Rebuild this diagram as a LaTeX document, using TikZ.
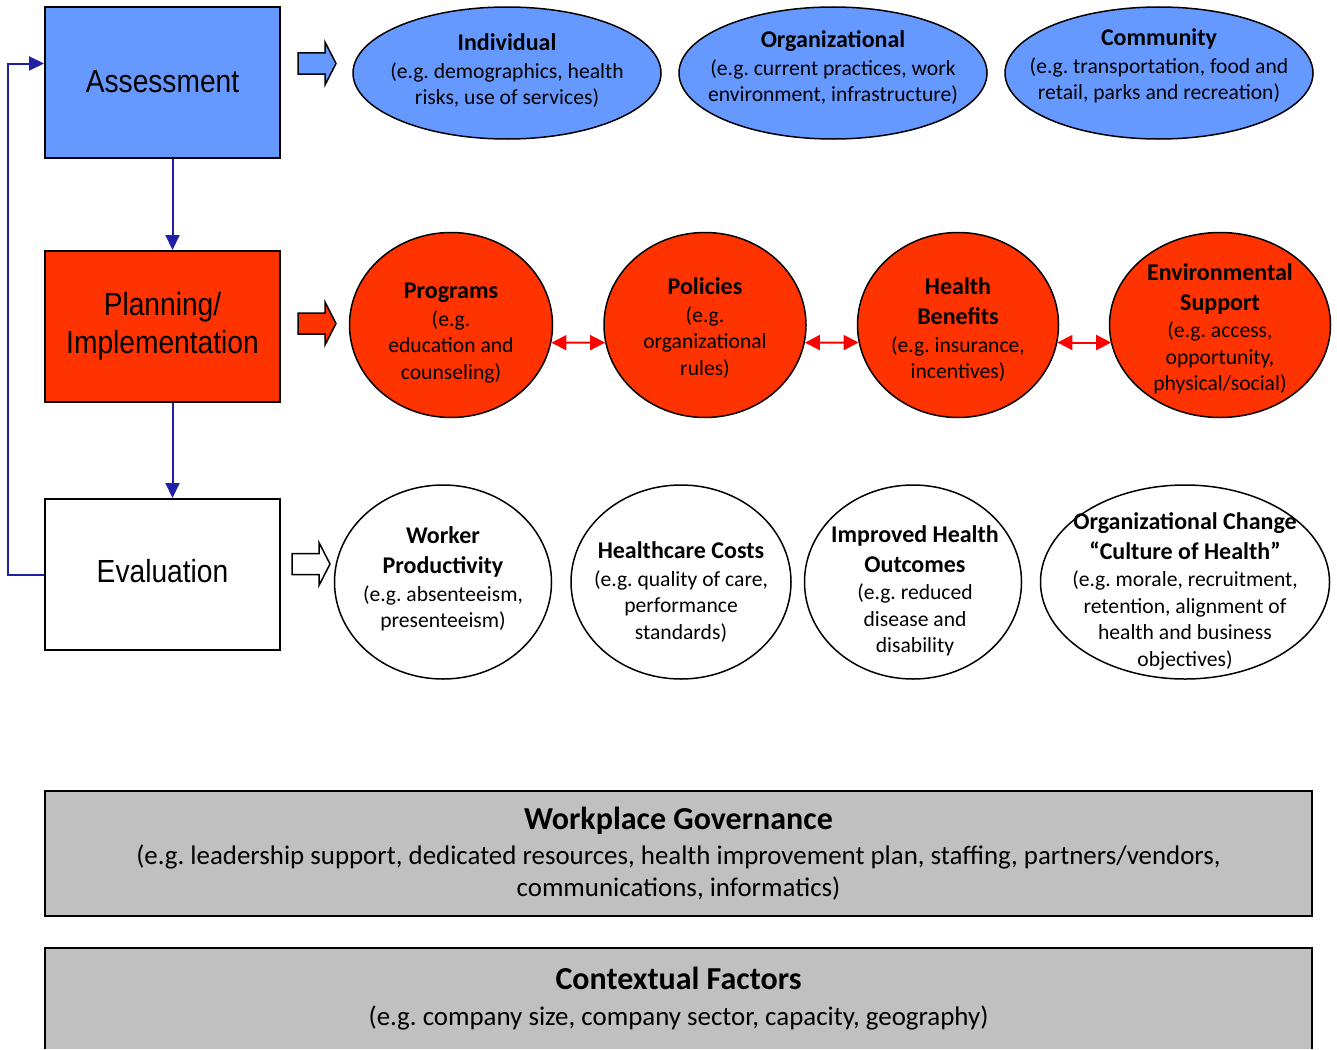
\documentclass[tikz,border=0pt]{standalone}
\usepackage{fontspec}
\setmainfont{Carlito}
\newfontfamily\boxfont[FakeStretch=0.88]{Liberation Sans}
\usetikzlibrary{shapes.geometric,arrows.meta}
\frenchspacing

\definecolor{assessblue}{HTML}{6699FF}
\definecolor{planred}{HTML}{FF3300}
\definecolor{loopblue}{HTML}{1F1FA8}
\definecolor{basegray}{HTML}{C0C0C0}

\tikzset{
  stage/.style={draw, line width=2pt, minimum width=235pt, minimum height=151pt,
    inner sep=0pt, align=center, font=\boxfont\fontsize{32}{38}\selectfont},
  area/.style={ellipse, draw, line width=1.5pt, inner sep=0pt},
  areatext/.style={align=center, inner sep=0pt, font=\fontsize{21.6}{26.5}\selectfont},
  flow/.style={line width=2pt, draw=loopblue, -{Triangle[length=15pt,width=14pt]}},
  link/.style={line width=2pt, draw=red,
    {Triangle[length=15pt,width=15pt]}-{Triangle[length=15pt,width=15pt]}},
  base/.style={fill=basegray, minimum width=1267pt, inner sep=0pt, align=center,
    font=\fontsize{26.9}{31.5}\selectfont}
}
\newcommand{\hd}[1]{{\bfseries\fontsize{24}{26.5}\selectfont #1}}
\newcommand{\ttl}[1]{{\bfseries\fontsize{32}{31.5}\selectfont #1}}
% fat arrow: tail x, centre y, fill
\newcommand{\fatarrow}[3]{%
  \draw[line width=1.5pt, fill=#3] (#1,#2-10.5) -- (#1+27,#2-10.5) -- (#1+27,#2-21.5)
    -- (#1+38,#2) -- (#1+27,#2+21.5) -- (#1+27,#2+10.5) -- (#1,#2+10.5) -- cycle;}

\begin{document}
\begin{tikzpicture}[x=1pt,y=-1pt]
  \useasboundingbox (0,0) rectangle (1337,1049);

  % stages
  \node[stage, fill=assessblue, text depth=3pt] (assess) at (162.5,82.5) {Assessment};
  \node[stage, fill=planred] (plan) at (162.5,326.5) {Planning/\\Implementation};
  \node[stage, fill=white, text depth=8pt] (eval) at (162.5,574.5) {Evaluation};

  \draw[flow] ([xshift=10pt]assess.south) -- ([xshift=10pt]plan.north);
  \draw[flow] ([xshift=10pt]plan.south) -- ([xshift=10pt]eval.north);
  \draw[flow] (eval.west) -- ++(-36,0) |- ([yshift=19pt]assess.west);

  \fatarrow{298}{63.5}{assessblue}
  \fatarrow{298}{323.5}{planred}
  \fatarrow{292}{564}{white}

  % assessment row
  \node[area, fill=assessblue, minimum width=308pt, minimum height=132pt] (indiv) at (507,73) {};
  \node[area, fill=assessblue, minimum width=308pt, minimum height=132pt] (orga) at (833,73) {};
  \node[area, fill=assessblue, minimum width=308pt, minimum height=132pt] (comm) at (1159,73) {};
  \node[areatext] (indiv-t) at (507,71) {\hd{Individual}\\[1pt](e.g. demographics, health\\risks, use of services)};
  \node[areatext] (orga-t) at (833,68) {\hd{Organizational}\\[1pt](e.g. current practices, work\\environment, infrastructure)};
  \node[areatext] (comm-t) at (1159,66) {\hd{Community}\\[1pt](e.g. transportation, food and\\retail, parks and recreation)};

  % planning row
  \node[area, fill=planred, minimum width=203pt, minimum height=185pt] (prog) at (451,325) {};
  \node[area, fill=planred, minimum width=202pt, minimum height=185pt] (poli) at (705,325) {};
  \node[area, fill=planred, minimum width=201pt, minimum height=185pt] (bene) at (958,325) {};
  \node[area, fill=planred, minimum width=221pt, minimum height=185pt] (envi) at (1220,325) {};
  \node[areatext] (prog-t) at (451,333) {\hd{Programs}\\[1pt](e.g.\\education and\\counseling)};
  \node[areatext] (poli-t) at (705,328) {\hd{Policies}\\[1pt](e.g.\\organizational\\rules)};
  \node[areatext] (bene-t) at (958,330) {\hd{Health}\\[3.5pt]\hd{Benefits}\\[1pt](e.g. insurance,\\incentives)};
  \node[areatext] (envi-t) at (1220,329) {\hd{Environmental}\\[3.5pt]\hd{Support}\\[1pt](e.g. access,\\opportunity,\\physical/social)};

  \draw[link] (prog.-10) -- (poli.190);
  \draw[link] (poli.-10) -- (bene.190);
  \draw[link] (bene.-10) -- (envi.190 |- bene.-10);

  % evaluation row
  \node[area, fill=white, minimum width=217pt, minimum height=194pt] (work) at (443,582) {};
  \node[area, fill=white, minimum width=220pt, minimum height=194pt] (cost) at (681,582) {};
  \node[area, fill=white, minimum width=217pt, minimum height=194pt] (outc) at (913,582) {};
  \node[area, fill=white, minimum width=289pt, minimum height=194pt] (cult) at (1185,582) {};
  \node[areatext] (work-t) at (443,579) {\hd{Worker}\\[3.5pt]\hd{Productivity}\\[1pt](e.g. absenteeism,\\presenteeism)};
  \node[areatext] (cost-t) at (681,592) {\hd{Healthcare Costs}\\[1pt](e.g. quality of care,\\performance\\standards)};
  \node[areatext] (outc-t) at (915,591) {\hd{Improved Health}\\[3.5pt]\hd{Outcomes}\\[1pt](e.g. reduced\\disease and\\disability};
  \node[areatext] (cult-t) at (1185,591) {\hd{Organizational Change}\\[3.5pt]\hd{“Culture of Health”}\\[1pt](e.g. morale, recruitment,\\retention, alignment of\\health and business\\objectives)};

  % governance and context
  \node[base, draw, line width=2pt, minimum height=125pt] (gov) at (678.5,853.5)
    {\ttl{Workplace Governance}\\[4pt](e.g. leadership support, dedicated resources, health improvement plan, staffing, partners/vendors,\\communications, informatics)};
  \node[base, minimum height=101pt] (ctx) at (678.5,998.5)
    {\ttl{Contextual Factors}\\[4pt](e.g. company size, company sector, capacity, geography)};
  \draw[line width=2pt] (ctx.south west) -- (ctx.north west) -- (ctx.north east) -- (ctx.south east);
\end{tikzpicture}
\end{document}
